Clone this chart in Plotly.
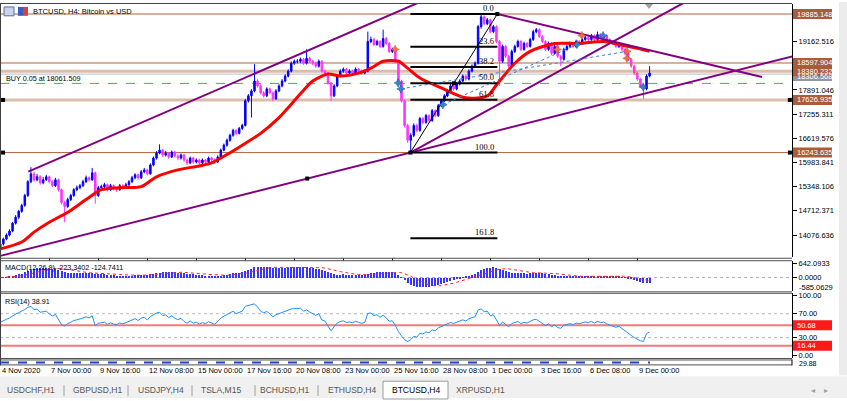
import pandas as pd
import plotly.graph_objects as go

# ------------------------------------------------------------------ data
first_open = 13713
close = [
    13843, 13973, 14076, 14180, 14388, 14543, 14699, 14855, 15114, 15478,
    15685, 15529, 15607, 15452, 15529, 15607, 15478, 15374, 15529, 15270,
    14933, 14829, 15010, 15114, 15270, 15322, 15374, 15478, 15581, 15529,
    15711, 15114, 15322, 15348, 15400, 15270, 15374, 15296, 15270, 15374,
    15322, 15400, 15478, 15581, 15659, 15581, 15737, 15789, 15685, 15919,
    16100, 16230, 16308, 16178, 16230, 16126, 16256, 16152, 16100, 16178,
    16048, 15971, 16100, 15997, 16048, 15971, 16048, 15997, 16100, 16048,
    15997, 16126, 16308, 16438, 16567, 16697, 16827, 16749, 16879, 16957,
    17605, 17735, 17865, 18124, 17995, 17813, 17735, 17917, 17813, 17657,
    17865, 17995, 18124, 18254, 18384, 18592, 18643, 18643, 18695, 18592,
    18721, 18643, 18592, 18514, 18643, 18384, 18332, 18073, 17735, 17995,
    18254, 18384, 18436, 18332, 18384, 18332, 18436, 18384, 18332, 18384,
    19162, 19214, 19085, 19162, 19033, 19240, 19111, 18903, 18955, 18643,
    18124, 17605, 16957, 16567, 16697, 16957, 16827, 17138, 17035, 17216,
    17086, 17346, 17216, 17476, 17605, 17735, 17865, 17995, 17917, 18047,
    18124, 18254, 18176, 18384, 18514, 18592, 19552, 19811, 19630, 19733,
    19422, 19552, 19162, 18643, 19033, 18773, 18514, 18903, 19033, 19162,
    18955, 19111, 19033, 19214, 19422, 19474, 19292, 19162, 18955, 19111,
    18851, 19033, 18773, 18695, 18955, 19033, 19111, 19033, 19162, 19111,
    19214, 19266, 19214, 19318, 19214, 19344, 19266, 19318, 19214, 19162,
    19111, 19033, 19085, 18955, 18851, 18695, 18514, 18332, 18176, 17995,
    17917, 18254, 18332]
high = [
    13900, 14010, 14120, 14230, 14420, 14600, 14740, 14900, 15160, 15520,
    15860, 15740, 15680, 15650, 15600, 15660, 15640, 15520, 15580, 15560,
    15300, 14980, 15060, 15160, 15310, 15380, 15420, 15530, 15640, 15620,
    15840, 15740, 15370, 15400, 15450, 15430, 15420, 15410, 15340, 15420,
    15410, 15450, 15520, 15630, 15700, 15690, 15790, 15840, 15820, 15960,
    16140, 16280, 16460, 16340, 16290, 16260, 16300, 16290, 16200, 16220,
    16210, 16090, 16140, 16130, 16090, 16080, 16090, 16080, 16140, 16130,
    16090, 16170, 16350, 16480, 16610, 16740, 16870, 16860, 16920, 17000,
    17650, 17780, 17910, 18566, 18170, 18040, 17860, 17960, 17950, 17850,
    17910, 18040, 18170, 18300, 18430, 18640, 18690, 18700, 18740, 18730,
    18955, 18760, 18680, 18630, 18690, 18670, 18420, 18360, 18100, 18040,
    18300, 18430, 18480, 18470, 18430, 18420, 18480, 18470, 18420, 18430,
    19422, 19290, 19260, 19210, 19200, 19474, 19280, 19150, 19000, 18990,
    18680, 18160, 17640, 17000, 16750, 17010, 17000, 17180, 17180, 17260,
    17250, 17390, 17380, 17520, 17650, 17780, 17910, 18040, 18030, 18090,
    18170, 18300, 18290, 18430, 18560, 18640, 19600, 19885, 19850, 19780,
    19760, 19600, 19590, 19200, 19080, 19070, 18810, 18950, 19080, 19210,
    19200, 19160, 19150, 19260, 19470, 19520, 19510, 19330, 19200, 19160,
    19150, 19080, 19070, 18810, 19000, 19080, 19160, 19150, 19210, 19200,
    19260, 19310, 19300, 19360, 19350, 19422, 19380, 19360, 19350, 19250,
    19200, 19150, 19130, 19120, 18990, 18890, 18730, 18550, 18370, 18210,
    18030, 18300, 18514]
low = [
    13680, 13800, 13940, 14040, 14150, 14350, 14500, 14660, 14820, 15080,
    15440, 15480, 15490, 15400, 15410, 15500, 15430, 15330, 15340, 15220,
    14880, 14414, 14790, 14970, 15080, 15230, 15280, 15340, 15440, 15480,
    15500, 14900, 15080, 15280, 15300, 15220, 15230, 15250, 15210, 15240,
    15270, 15290, 15360, 15440, 15540, 15530, 15550, 15700, 15640, 15660,
    15880, 16060, 16200, 16130, 16140, 16080, 16100, 16110, 16050, 16060,
    16000, 15920, 15940, 15950, 15960, 15930, 15940, 15950, 15970, 16000,
    15950, 15970, 16100, 16280, 16400, 16530, 16660, 16700, 16720, 16840,
    16930, 17560, 17164, 17830, 17950, 17770, 17690, 17700, 17770, 17600,
    17630, 17830, 17960, 18090, 18220, 18350, 18550, 18590, 18600, 18550,
    18560, 18600, 18540, 18470, 18480, 18340, 18290, 18030, 17605, 17700,
    17960, 18220, 18340, 18290, 18300, 18290, 18300, 18340, 18290, 18300,
    18350, 19120, 19040, 19050, 18990, 19000, 19070, 18860, 18860, 18600,
    18080, 17560, 16900, 16500, 16243, 16650, 16780, 16790, 16990, 17000,
    17040, 17050, 17170, 17180, 17440, 17570, 17700, 17830, 17870, 17880,
    18010, 18090, 18130, 18140, 18350, 18480, 18560, 19500, 19590, 19590,
    19380, 19380, 19120, 17995, 18600, 18730, 18470, 18480, 18860, 19000,
    18910, 18920, 18990, 19000, 19180, 19380, 19250, 19120, 18910, 18920,
    18800, 18820, 18730, 18514, 18660, 18920, 19000, 18990, 19000, 19070,
    19080, 19180, 19170, 19180, 19170, 19180, 19220, 19230, 19170, 19120,
    19070, 18990, 18990, 18910, 18800, 18650, 18470, 18290, 18130, 17950,
    17657, 17880, 18220]

# red moving average (bar index, price)
ma_bar = [0, 7, 11, 16, 22, 28, 33, 39, 46, 51, 58, 65, 69, 72, 78, 85, 91, 98, 102,
          107, 111, 117, 121, 125, 130, 133, 137, 144, 152, 159, 162, 168, 173, 181,
          189, 197, 202, 208, 212]
ma_val = [13713, 13895, 14154, 14414, 14673, 15010, 15270, 15322, 15348, 15607, 15789,
          15893, 15971, 16100, 16386, 16749, 17164, 17787, 18124, 18306, 18254, 18332,
          18462, 18643, 18643, 18462, 18202, 17943, 17683, 17735, 18021, 18592, 18903,
          19110, 19110, 19162, 19085, 18981, 18903]

time_tick_bar = [0, 16, 32, 48, 64, 80, 96, 112, 128, 144, 160, 176, 192, 208]
time_tick_text = ["4 Nov 2020", "7 Nov 00:00", "9 Nov 16:00", "12 Nov 08:00", "15 Nov 00:00",
                  "17 Nov 16:00", "20 Nov 08:00", "23 Nov 00:00", "25 Nov 16:00",
                  "28 Nov 08:00", "1 Dec 00:00", "3 Dec 16:00", "6 Dec 08:00", "9 Dec 00:00"]

price_ticks = [14076.636, 14712.371, 15348.106, 15983.841, 16619.576, 17255.311,
               17891.046, 18526.781, 19162.516, 19798.251]
price_ticks_hidden = [18526.781, 19798.251]   # covered by object labels in the chart
hline_price = [19885.148, 18597.904, 18380.232, 17626.935, 16243.635]
hline_thick = [False, False, True, True, False]
buy_price = 18061.509
bid_price = 18306.0
bid_label = "18306.568"

fib_bar = [133.9, 162.3]
fib_price = [16243.635, 19885.148]
fib_ratio = [0.0, 23.6, 38.2, 50.0, 61.8, 100.0, 161.8]

upper_chan_bar, upper_chan_price = [9.14, 68.5], [15745, 17813]
lower_chan_bar, lower_chan_price = [100.2, 133.9], [15560.6, 16243.6]
steep_bar, steep_price = [133.9, 209.0], [16243.6, 19554]
desc_bar, desc_price = [162.3, 248.7], [19885.1, 18228]

orange_mark_bar = [128.9, 181.8, 189.9, 204.6, 204.6]
orange_mark_price = [18955, 18955, 19318, 18903, 18721]
blue_mark_bar = [129.9, 130.8, 144.5, 188.3, 196.8, 209.9]
blue_mark_price = [18073, 17917, 17502, 19085, 19318, 17969]

macd_ticks = [642.0933, 0.0]
macd_low_label = -585.0629
rsi_ticks = [100, 70, 30, 0]
rsi_user_levels = [50.68, 16.44]
rsi_seed = (75.0, 68.0)

tabs = ["USDCHF,H1", "GBPUSD,H1", "USDJPY,H4", "TSLA,M15", "BCHUSD,H1", "ETHUSD,H4",
        "BTCUSD,H4", "XRPUSD,H1"]
tab_x = [31, 97, 161, 221, 284, 352, 416, 480]
active_tab = "BTCUSD,H4"

# ------------------------------------------------------------------ indicators
bars = list(range(len(close)))
opens = [first_open] + close[:-1]
cs = pd.Series(close, dtype=float)
macd = cs.ewm(span=12, adjust=False).mean() - cs.ewm(span=26, adjust=False).mean()
signal = macd.rolling(9, min_periods=1).mean()
ag, al = rsi_seed
rsi = []
for o, c in zip(opens, close):
    d = c - o
    ag = (ag * 13 + max(d, 0)) / 14
    al = (al * 13 + max(-d, 0)) / 14
    rsi.append(100 - 100 / (1 + ag / al))

# ------------------------------------------------------------------ geometry
W, H = 847, 401
PW = 792
def PX(x): return x / W
def PY(y): return 1 - y / H

AX = "Liberation Sans, Arial, sans-serif"
UI = "Liberation Sans, Arial, sans-serif"
SIENNA = "#a95c38"
PURPLE = "#800080"
BULL = "#0000ff"
BEAR = "#ff33ff"

fig = go.Figure()

fig.add_trace(go.Candlestick(
    x=bars, open=opens, high=high, low=low, close=close,
    increasing=dict(line=dict(color=BULL, width=1), fillcolor=BULL),
    decreasing=dict(line=dict(color=BEAR, width=1), fillcolor=BEAR),
    whiskerwidth=0, showlegend=False, hoverinfo="skip", xaxis="x", yaxis="y"))

fig.add_trace(go.Scatter(x=ma_bar, y=ma_val, mode="lines",
                         line=dict(color="#ff0000", width=3, shape="spline", smoothing=0.8),
                         hoverinfo="skip", yaxis="y"))

def extend(b, p, b0, b1):
    s = (p[1] - p[0]) / (b[1] - b[0])
    return [b0, b1], [p[0] + s * (b0 - b[0]), p[0] + s * (b1 - b[0])]

for (b, p, b0, b1) in [(upper_chan_bar, upper_chan_price, upper_chan_bar[0], 220),
                       (lower_chan_bar, lower_chan_price, -5, 262),
                       (steep_bar, steep_price, steep_bar[0], 262),
                       (desc_bar, desc_price, desc_bar[0], desc_bar[1])]:
    xs, ys = extend(b, p, b0, b1)
    fig.add_trace(go.Scatter(x=xs, y=ys, mode="lines", line=dict(color=PURPLE, width=2),
                             hoverinfo="skip", yaxis="y"))

# fibonacci
ann = []
span = fib_price[1] - fib_price[0]
for r in fib_ratio:
    lv = fib_price[1] - r / 100 * span
    fig.add_trace(go.Scatter(x=fib_bar, y=[lv, lv], mode="lines",
                             line=dict(color="black", width=2), hoverinfo="skip", yaxis="y"))
    ann.append(dict(x=fib_bar[1] - 0.4, y=lv, xref="x", yref="y", text=f"{r:.1f}",
                    showarrow=False, xanchor="right", yanchor="bottom", yshift=-1,
                    font=dict(family="Liberation Serif, DejaVu Serif, serif", size=8.5, color="black")))
fig.add_trace(go.Scatter(x=fib_bar, y=fib_price, mode="lines",
                         line=dict(color="black", width=1), hoverinfo="skip", yaxis="y"))

# trade markers and dotted history lines
fig.add_trace(go.Scatter(x=[blue_mark_bar[1], orange_mark_bar[3]],
                         y=[blue_mark_price[1], orange_mark_price[3]], mode="lines",
                         line=dict(color="#3b7dd8", width=1, dash="dot"), yaxis="y", hoverinfo="skip"))
fig.add_trace(go.Scatter(x=[blue_mark_bar[2], blue_mark_bar[3]],
                         y=[blue_mark_price[2], blue_mark_price[3]], mode="lines",
                         line=dict(color="#3b7dd8", width=1, dash="dot"), yaxis="y", hoverinfo="skip"))
fig.add_trace(go.Scatter(x=[orange_mark_bar[4], blue_mark_bar[5]],
                         y=[orange_mark_price[4], blue_mark_price[5]], mode="lines",
                         line=dict(color="#e8703a", width=1, dash="dot"), yaxis="y", hoverinfo="skip"))
fig.add_trace(go.Scatter(x=orange_mark_bar, y=orange_mark_price, mode="markers",
                         marker=dict(symbol="star-diamond", size=6, color="#f07040",
                                     line=dict(color="#c04010", width=0.5)),
                         yaxis="y", hoverinfo="skip"))
fig.add_trace(go.Scatter(x=blue_mark_bar, y=blue_mark_price, mode="markers",
                         marker=dict(symbol="star-diamond", size=6, color="#2f86d0",
                                     line=dict(color="#104080", width=0.5)),
                         yaxis="y", hoverinfo="skip"))

# black anchor squares
sq_x = [fib_bar[0], fib_bar[1], sum(fib_bar) / 2, lower_chan_bar[0], 0.9, 257.8, 0.9, 257.8]
sq_y = [fib_price[0], fib_price[1], sum(fib_price) / 2, lower_chan_price[0],
        hline_price[3], hline_price[3], hline_price[4], hline_price[4]]
fig.add_trace(go.Scatter(x=sq_x, y=sq_y, mode="markers",
                         marker=dict(symbol="square", size=4, color="black"),
                         yaxis="y", hoverinfo="skip", cliponaxis=False))

# MACD
fig.add_trace(go.Bar(x=bars, y=macd, width=0.34, marker=dict(color="#3535ff", line=dict(width=0)),
                     yaxis="y2", hoverinfo="skip"))
fig.add_trace(go.Scatter(x=bars, y=signal, mode="lines",
                         line=dict(color="#ff2020", width=1, dash="dot"), yaxis="y2", hoverinfo="skip"))
# RSI
fig.add_trace(go.Scatter(x=bars, y=rsi, mode="lines", line=dict(color="#1e90ff", width=1),
                         yaxis="y3", hoverinfo="skip"))

# ------------------------------------------------------------------ shapes
shapes = []
def pline(x0, y0, x1, y1, color, width=1, dash="solid"):
    shapes.append(dict(type="line", xref="paper", yref="paper", x0=PX(x0), y0=PY(y0),
                       x1=PX(x1), y1=PY(y1), line=dict(color=color, width=width, dash=dash)))
def prect(x0, y0, x1, y1, fill, line=None):
    shapes.append(dict(type="rect", xref="paper", yref="paper", x0=PX(x0), y0=PY(y0),
                       x1=PX(x1), y1=PY(y1), fillcolor=fill,
                       line=dict(color=line or fill, width=1 if line else 0), layer="above"))

for pr, thick in zip(hline_price, hline_thick):
    shapes.append(dict(type="line", xref="paper", yref="y", x0=0, x1=PX(PW), y0=pr, y1=pr,
                       line=dict(color="#dcbcab" if thick else "#b0643e", width=3 if thick else 1),
                       layer="below"))
shapes.append(dict(type="line", xref="paper", yref="y", x0=0, x1=PX(PW), y0=bid_price, y1=bid_price,
                   line=dict(color="#b8bcc8", width=1), layer="below"))
shapes.append(dict(type="line", xref="paper", yref="y", x0=0, x1=PX(PW), y0=buy_price, y1=buy_price,
                   line=dict(color="#22cc22", width=1, dash="dash"), layer="below"))
shapes.append(dict(type="line", xref="paper", yref="y2", x0=0, x1=PX(PW), y0=0, y1=0,
                   line=dict(color="#b0b0b0", width=1, dash="dot"), layer="below"))
for lv in (70, 30):
    shapes.append(dict(type="line", xref="paper", yref="y3", x0=0, x1=PX(PW), y0=lv, y1=lv,
                       line=dict(color="#b8b8b8", width=1, dash="dot"), layer="below"))
for lv in rsi_user_levels:
    shapes.append(dict(type="line", xref="paper", yref="y3", x0=0, x1=PX(PW), y0=lv, y1=lv,
                       line=dict(color="#f47a7a", width=2), layer="below"))

# window frame and separators
pline(0, 1.5, PW, 1.5, "#404040")
for yy in (259.5, 262, 293.5, 295, 361, 362.5, 367.5):
    pline(0, yy, PW, yy, "#505050")
pline(0.5, 1, 0.5, 368, "#404040")
pline(0, 365, 650, 365, "#2040d0", 2, "dash")
pline(PW, 362, PW, 368, "black")
# right strip and bottom tab bar
prect(839, 0, 847, 378, "#ececec")
prect(0, 379, 847, 401, "#f0f0f0")
prect(383, 384, 448, 402, "#ffffff", "#9a9a9a")
for sx in (64, 128, 192, 255, 318):
    pline(sx, 388, sx, 399, "#a0a0a0")
# chart shift triangle
shapes.append(dict(type="path", xref="paper", yref="paper",
                   path=f"M {PX(645)} {PY(2)} L {PX(653)} {PY(2)} L {PX(649)} {PY(7)} Z",
                   fillcolor="#a0a0a8", line=dict(width=0)))
# title icons
prect(4, 5, 14, 14, "#c9d3ea", "#5a6ea6")
prect(18, 5, 23, 14, "#3a5cc0")
prect(23, 5, 28, 14, "#d84040")

# ------------------------------------------------------------------ annotations
def text(x, y, s, size=8, color="black", family=AX, xanchor="left"):
    ann.append(dict(x=PX(x), y=PY(y), xref="paper", yref="paper", text=s, showarrow=False,
                    xanchor=xanchor, yanchor="middle", font=dict(size=size, color=color, family=family)))

text(31, 10, "BTCUSD, H4: Bitcoin vs USD", 7.5)
text(4, 77, "BUY 0.05 at 18061.509", 7.2)
text(3, 269, "MACD(12,26,9) -223.3402 -124.7411", 7.2)
text(3, 303, "RSI(14) 38.91", 7.2)

def axis_box(val, yref, s, bg, dy=0):
    shapes.append(dict(type="rect", xref="paper", x0=PX(793), x1=PX(832), yref=yref,
                       ysizemode="pixel", yanchor=val, y0=-5 + dy, y1=5 + dy, fillcolor=bg,
                       line=dict(width=0), layer="above"))
    ann.append(dict(x=PX(795), y=val, xref="paper", yref=yref, text=s, showarrow=False,
                    xanchor="left", yanchor="middle", yshift=dy,
                    font=dict(size=7.5, color="white", family=AX)))

axis_box(bid_price, "y", bid_label, "#8e96a8", dy=-2)
for pr in hline_price:
    axis_box(pr, "y", f"{pr:.3f}", SIENNA)
for lv in rsi_user_levels:
    axis_box(lv, "y3", f"{lv:.2f}", "#ff1a1a")
text(797, 289, f"{macd_low_label:.4f}", 7.5)
text(797, 366, "29.88", 7)

for b, s in zip(time_tick_bar, time_tick_text):
    ann.append(dict(x=b - 0.1, y=PY(373), xref="x", yref="paper", text=s, showarrow=False,
                    xanchor="left", yanchor="middle", font=dict(size=7.5, color="black", family=AX)))

for t, cx in zip(tabs, tab_x):
    text(cx, 393, t, 8.5, "black" if t == active_tab else "#555555", UI, xanchor="center")
text(813, 393, "◂", 8, "#a0a0a0", UI, xanchor="center")
text(826, 393, "▸", 8, "#a0a0a0", UI, xanchor="center")

# ------------------------------------------------------------------ layout
tickfont = dict(family=AX, size=7.5, color="black")
yax = dict(side="right", anchor="x", showgrid=False, zeroline=False, ticks="outside",
           ticklen=4, tickcolor="black", showline=True, linecolor="black", linewidth=1,
           tickfont=tickfont, fixedrange=True)

fig.update_layout(
    width=W, height=H, margin=dict(l=0, r=0, t=0, b=0),
    paper_bgcolor="white", plot_bgcolor="white", showlegend=False,
    barmode="overlay", bargap=0,
    xaxis=dict(domain=[0, PX(PW)], range=[-0.1, 258.5], anchor="y4", showgrid=False,
               zeroline=False, tickvals=time_tick_bar, showticklabels=False, ticks="outside",
               ticklen=3, tickcolor="black", rangeslider=dict(visible=False), showline=False),
    yaxis=dict(domain=[PY(258), PY(2)], range=[13505.4, 20148.6], tickvals=price_ticks,
               ticktext=["" if v in price_ticks_hidden else f"{v:.3f}" for v in price_ticks], **yax),
    yaxis2=dict(domain=[PY(293), PY(262)], range=[-642.6, 780.3], tickvals=macd_ticks,
                ticktext=["642.0933", "0.0000"], **yax),
    yaxis3=dict(domain=[PY(360), PY(295)], range=[-3.3, 104.13], tickvals=rsi_ticks,
                ticktext=[f"{v:.2f}" for v in rsi_ticks], **yax),
    yaxis4=dict(domain=[PY(367), PY(362)], range=[0, 1], tickvals=[], **yax),
    shapes=shapes, annotations=ann,
)

fig.write_html("out.html", config={"displayModeBar": False})
